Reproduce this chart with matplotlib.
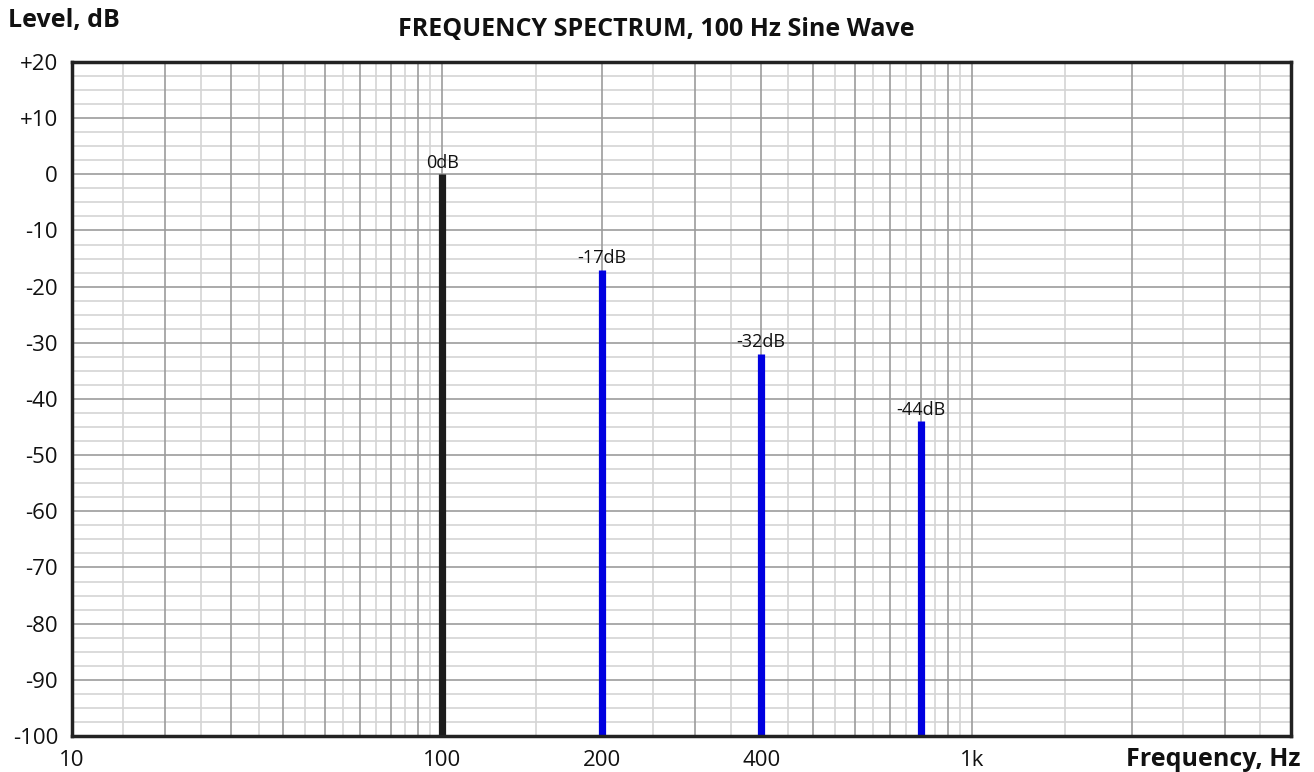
import numpy as np
import matplotlib
matplotlib.use("Agg")
import matplotlib.pyplot as plt

# harmonic data
freqs = [100, 200, 400, 800]
levels = [0, -17, -32, -44]
bar_labels = ["0dB", "-17dB", "-32dB", "-44dB"]
bar_colors = ["#1c1c1c", "#0000e0", "#0000e0", "#0000e0"]

x_tick_pos = [20, 100, 200, 400, 1000]
x_tick_labels = ["10", "100", "200", "400", "1k"]
y_ticks = [20, 10, 0, -10, -20, -30, -40, -50, -60, -70, -80, -90, -100]
y_tick_labels = ["+20", "+10", "0", "-10", "-20", "-30", "-40", "-50",
                 "-60", "-70", "-80", "-90", "-100"]

plt.rcParams['font.family'] = ['Open Sans', 'DejaVu Sans']

fig = plt.figure(figsize=(13.14, 7.72), dpi=100)
ax = fig.add_axes([72 / 1314, 36 / 772, 1219 / 1314, 674 / 772])
ax.set_xscale('log')
ax.set_xlim(20, 4000)
ax.set_ylim(-100, 20)

# grid: light lines first, dark on top
light_x = list(np.arange(25, 100, 10)) + list(np.arange(150, 1000, 100)) + [1500, 2500, 3500]
dark_x = list(np.arange(30, 100, 10)) + list(np.arange(100, 1000, 100)) + [1000, 2000, 3000]
light_y = [v for v in np.arange(-100, 20.1, 2.5) if v % 10 != 0]
dark_y = np.arange(-90, 20, 10)
for v in light_x:
    ax.axvline(v, color='#d4d4d4', lw=1.2, zorder=1)
for v in light_y:
    ax.axhline(v, color='#d4d4d4', lw=1.2, zorder=1)
for v in dark_x:
    ax.axvline(v, color='#9c9c9c', lw=1.2, zorder=2)
for v in dark_y:
    ax.axhline(v, color='#9c9c9c', lw=1.2, zorder=2)

ax.vlines(freqs, -100, levels, colors=bar_colors, lw=5.2, capstyle='butt', zorder=3)
for f, lv, t in zip(freqs, levels, bar_labels):
    ax.annotate(t, (f, lv), xytext=(0, 2), textcoords='offset points',
                ha='center', va='bottom', fontsize=13, color='#111111', zorder=4)

ax.set_xticks(x_tick_pos)
ax.set_xticklabels(x_tick_labels)
ax.xaxis.set_minor_locator(plt.NullLocator())
ax.set_yticks(y_ticks)
ax.set_yticklabels(y_tick_labels)
ax.tick_params(length=0, labelsize=16, colors='#111111')
ax.tick_params(axis='x', pad=10)
ax.tick_params(axis='y', pad=10)

for s in ax.spines.values():
    s.set_linewidth(2.5)
    s.set_color('#222222')
    s.set_zorder(5)

fig.text(8 / 1314, 1 - 20 / 772, "Level, dB", fontsize=18, fontweight='bold',
         ha='left', va='center', color='#111111')
fig.text(656 / 1314, 1 - 29 / 772, "FREQUENCY SPECTRUM, 100 Hz Sine Wave", fontsize=18,
         fontweight='bold', ha='center', va='center', color='#111111')
fig.text(1300 / 1314, 1 - 759 / 772, "Frequency, Hz", fontsize=18, fontweight='bold',
         ha='right', va='center', color='#111111')

fig.savefig("out.png", dpi=100)
